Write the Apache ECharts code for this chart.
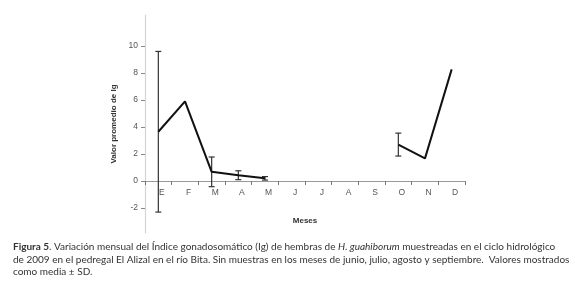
<!DOCTYPE html>
<html>
<head>
<meta charset="utf-8">
<script src="https://cdn.jsdelivr.net/npm/echarts@6/dist/echarts.min.js"></script>
<style>html,body{margin:0;padding:0;background:#fff}#c{width:575px;height:289px}</style>
</head>
<body>
<div id="c"></div>
<script>
const months = ['E','F','M','A','M','J','J','A','S','O','N','D'];
const meanIg = [3.65, 5.9, 0.68, 0.43, 0.2, null, null, null, null, 2.7, 1.68, 8.27];
const sdIg   = [5.95, null, 1.1, 0.33, 0.13, null, null, null, null, 0.85, null, null];
const yTicks = [-2, 0, 2, 4, 6, 8, 10];

const errData = [];
months.forEach((m, i) => {
  if (meanIg[i] != null && sdIg[i] != null) {
    errData.push([i, meanIg[i] - sdIg[i], meanIg[i] + sdIg[i]]);
  }
});

const yMin = -3.85, yMax = 12.3;
const gridTop = 15, gridBottom = 56, H = 289;
const plotH = H - gridTop - gridBottom;
const zeroOffset = -(plotH * (0 - yMin) / (yMax - yMin));

const chart = echarts.init(document.getElementById('c'));
const axisFont = "'Liberation Sans Narrow','Liberation Sans',Arial,sans-serif";
chart.setOption({
  animation: false,
  title: {
    left: 8, top: 236,
    text: '{b|Figura 5}. Variación mensual del Índice gonadosomático (Ig) de hembras de {i|H. guahiborum} muestreadas en el ciclo hidrológico\nde 2009 en el pedregal El Alizal en el río Bita. Sin muestras en los meses de junio, julio, agosto y septiembre.  Valores mostrados\ncomo media ± SD.',
    textStyle: {
      fontFamily: 'Lato', fontSize: 10, fontWeight: 'normal', color: '#333', lineHeight: 12.5,
      rich: {
        b: { fontFamily: 'Lato', fontSize: 10, fontWeight: 'bold', color: '#333', lineHeight: 12.5 },
        i: { fontFamily: 'Lato', fontSize: 10, fontStyle: 'italic', color: '#333', lineHeight: 12.5 }
      }
    }
  },
  grid: { left: 145, right: 110, top: gridTop, bottom: gridBottom, containLabel: false },
  xAxis: {
    type: 'category',
    data: months,
    boundaryGap: true,
    offset: zeroOffset,
    name: 'Meses',
    nameLocation: 'middle',
    nameGap: 36,
    nameTextStyle: { fontFamily: axisFont, fontSize: 8, fontWeight: 'bold', color: '#333' },
    axisLine: { onZero: false, lineStyle: { color: '#999', width: 1 } },
    axisTick: { show: true, interval: 0, alignWithLabel: false, length: 4, lineStyle: { color: '#777' } },
    axisLabel: { interval: 0, fontFamily: axisFont, fontSize: 8.5, color: '#555', margin: 7, padding: [0, 0, 0, 7] },
    splitLine: { show: false }
  },
  yAxis: {
    type: 'value',
    min: yMin, max: yMax,
    name: 'Valor promedio de Ig',
    nameLocation: 'middle',
    nameGap: 24,
    nameRotate: 90,
    nameTextStyle: { fontFamily: axisFont, fontSize: 8, fontWeight: 'bold', color: '#333' },
    axisLine: { show: true, onZero: false, lineStyle: { color: '#d4d4d4', width: 1.2 } },
    axisTick: { show: true, length: 4, customValues: yTicks, lineStyle: { color: '#888' } },
    axisLabel: { customValues: yTicks, fontFamily: axisFont, fontSize: 8.5, color: '#555', margin: 7 },
    splitLine: { show: false }
  },
  series: [
    {
      type: 'line',
      data: meanIg,
      connectNulls: false,
      symbol: 'none',
      lineStyle: { color: '#111', width: 2 },
      z: 3
    },
    {
      type: 'custom',
      data: errData,
      z: 2,
      renderItem: function (params, api) {
        const x = api.value(0);
        const lo = api.coord([x, api.value(1)]);
        const hi = api.coord([x, api.value(2)]);
        const cap = 3;
        const st = { stroke: '#333', lineWidth: 1.2 };
        return {
          type: 'group',
          children: [
            { type: 'line', shape: { x1: hi[0], y1: hi[1], x2: lo[0], y2: lo[1] }, style: st },
            { type: 'line', shape: { x1: hi[0] - cap, y1: hi[1], x2: hi[0] + cap, y2: hi[1] }, style: st },
            { type: 'line', shape: { x1: lo[0] - cap, y1: lo[1], x2: lo[0] + cap, y2: lo[1] }, style: st }
          ]
        };
      }
    }
  ]
});
</script>
</body>
</html>
